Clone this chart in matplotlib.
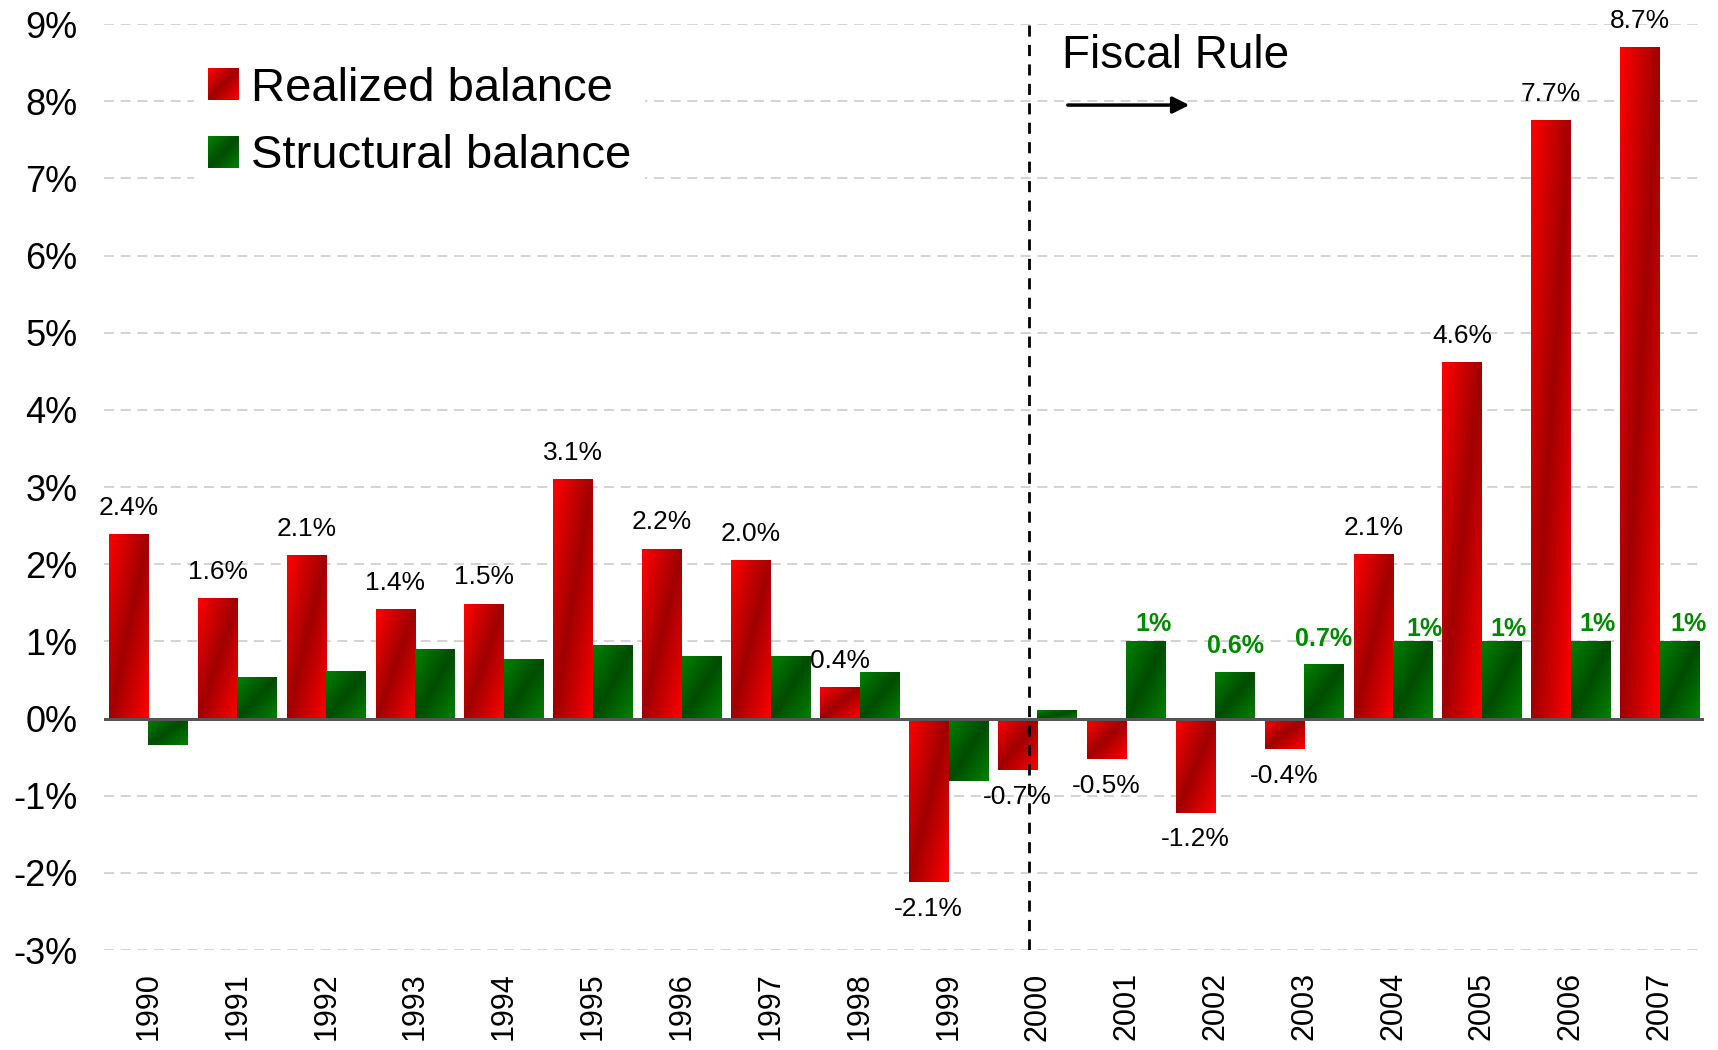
import matplotlib
matplotlib.use("Agg")
import matplotlib.pyplot as plt
import numpy as np
from matplotlib.legend_handler import HandlerBase
from matplotlib.image import BboxImage
from matplotlib.transforms import Bbox, TransformedBbox
from matplotlib.patches import Rectangle
from matplotlib.ticker import FuncFormatter, MultipleLocator

plt.rcParams['font.family'] = ['Liberation Sans', 'DejaVu Sans']

years = ['1990', '1991', '1992', '1993', '1994', '1995', '1996', '1997', '1998',
         '1999', '2000', '2001', '2002', '2003', '2004', '2005', '2006', '2007']
realized = [2.39, 1.56, 2.12, 1.42, 1.49, 3.10, 2.20, 2.05, 0.41,
            -2.12, -0.67, -0.53, -1.22, -0.40, 2.13, 4.62, 7.75, 8.70]
realized_labels = ['2.4%', '1.6%', '2.1%', '1.4%', '1.5%', '3.1%', '2.2%', '2.0%', '0.4%',
                   '-2.1%', '-0.7%', '-0.5%', '-1.2%', '-0.4%', '2.1%', '4.6%', '7.7%', '8.7%']
structural = [-0.34, 0.54, 0.61, 0.90, 0.77, 0.95, 0.81, 0.81, 0.60,
              -0.81, 0.11, 1.0, 0.6, 0.71, 1.0, 1.0, 1.0, 1.0]
structural_labels = [''] * 11 + ['1%', '0.6%', '0.7%', '1%', '1%', '1%', '1%']

# hand nudges (points) for the green labels, as in the original slide
green_nudge = [(0, 0)] * 11 + [(5, 12.6), (0, 18.9), (0, 18.1), (8.7, 8.7),
                               (4.7, 8.7), (4.7, 12.6), (6.3, 12.6)]


def gradient(bright, dark, n=64):
    # diagonal gradient bright -> dark -> bright, in the bar's own box
    u = np.linspace(0, 1, n)
    t = (u[None, :] + u[:, None]) / 2
    f = (1 - np.abs(2 * t - 1))[..., None]
    b = np.array(bright) / 255
    d = np.array(dark) / 255
    return b * (1 - f) + d * f


red_grad = gradient((255, 0, 0), (160, 0, 0))
green_grad = gradient((0, 130, 0), (0, 76, 0))


class GradientHandler(HandlerBase):
    def __init__(self, grad):
        super().__init__()
        self.grad = grad

    def create_artists(self, legend, orig_handle, xdescent, ydescent,
                       width, height, fontsize, trans):
        bb = Bbox.from_bounds(-xdescent, -ydescent, width, height)
        img = BboxImage(TransformedBbox(bb, trans), interpolation='bilinear')
        img.set_data(self.grad)
        return [img]


fig = plt.figure(figsize=(17.18, 10.5), dpi=100)
ax = fig.add_axes([0.0605, 0.0952, 0.9315, 0.8819])

x = np.arange(len(years))
w = 0.445
red_bars = ax.bar(x - w / 2, realized, w, color='none', edgecolor='none')
green_bars = ax.bar(x + w / 2, structural, w, color='none', edgecolor='none')

for bars, grad in ((red_bars, red_grad), (green_bars, green_grad)):
    for r in bars:
        x0 = r.get_x()
        x1 = x0 + r.get_width()
        ya = r.get_y()
        yb = ya + r.get_height()
        ax.imshow(grad, extent=[x0, x1, min(ya, yb), max(ya, yb)],
                  aspect='auto', interpolation='bilinear', zorder=2)

for xi, v, lab in zip(x, realized, realized_labels):
    ax.annotate(lab, (xi - w / 2, v), xytext=(0, 19 if v >= 0 else -19),
                textcoords='offset points', ha='center', va='center', fontsize=19)

for xi, v, lab, (dx, dy) in zip(x, structural, structural_labels, green_nudge):
    if lab:
        ax.annotate(lab, (xi + w / 2, v), xytext=(dx, dy),
                    textcoords='offset points', ha='center', va='center',
                    fontsize=18, fontweight='bold', color='#008a00')

ax.axhline(0, color='#555555', lw=2.2, zorder=3)
ax.axvline(9.91, color='black', lw=2, linestyle=(0, (4, 3)), zorder=4)

ax.text(10.28, 8.58, 'Fiscal Rule', fontsize=33, ha='left', va='center')
ax.annotate('', xy=(11.74, 7.95), xytext=(10.31, 7.95),
            arrowprops=dict(arrowstyle='-|>', color='black', lw=2.5, mutation_scale=25))

ax.set_xlim(-0.5, len(years) - 0.5)
ax.set_ylim(-3, 9)
ax.set_xticks(x)
ax.set_xticklabels(years, rotation=90, fontsize=22)
ax.yaxis.set_major_locator(MultipleLocator(1))
ax.yaxis.set_major_formatter(FuncFormatter(lambda v, p: f"{int(round(v))}%"))
ax.tick_params(axis='x', length=0, pad=16)
ax.tick_params(axis='y', length=0, pad=19, labelsize=26)
ax.grid(axis='y', color='#cccccc', linestyle=(0, (6, 4)), linewidth=1.2)
ax.set_axisbelow(True)
for s in ax.spines.values():
    s.set_visible(False)

handles = [Rectangle((0, 0), 1, 1), Rectangle((0, 0), 1, 1)]
ax.legend(handles, ['Realized balance', 'Structural balance'],
          handler_map={handles[0]: GradientHandler(red_grad),
                       handles[1]: GradientHandler(green_grad)},
          loc='upper left', bbox_to_anchor=(0.113, 0.9495), bbox_transform=fig.transFigure,
          fontsize=34, frameon=True, facecolor='white', edgecolor='none', framealpha=1,
          fancybox=False, handlelength=0.65, handleheight=0.65, handletextpad=0.25,
          labelspacing=0.49, borderpad=0.3, borderaxespad=0)

fig.savefig('out.png', dpi=100)
